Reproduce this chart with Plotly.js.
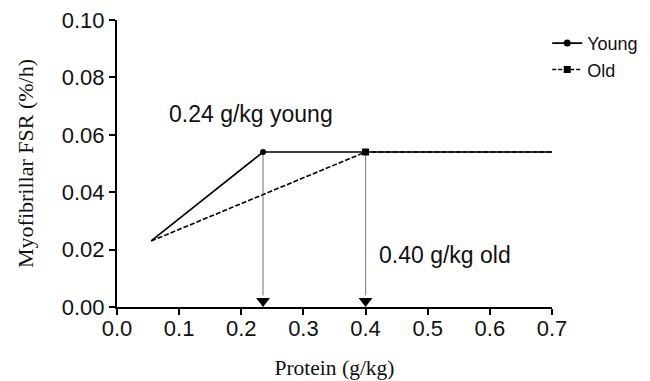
<!DOCTYPE html>
<html>
<head>
<meta charset="utf-8">
<script src="https://cdn.plot.ly/plotly-3.0.1.min.js"></script>
<style>html,body{margin:0;padding:0;background:#fff;} #chart{width:650px;height:381px;}</style>
</head>
<body>
<div id="chart"></div>
<script>
// Data
var youngX = [0.055, 0.235, 0.7];
var youngY = [0.023, 0.054, 0.054];
var oldX = [0.055, 0.4, 0.7];
var oldY = [0.023, 0.054, 0.054];
var breakX = [0.235, 0.4];
var breakY = [0.054, 0.054];
var breakLabels = ['0.24 g/kg young', '0.40 g/kg old'];
var labelX = [0.08, 0.418];
var labelY = [0.0672, 0.0182];
var xTicks = [0, 0.1, 0.2, 0.3, 0.4, 0.5, 0.6, 0.7];
var yTicks = [0, 0.02, 0.04, 0.06, 0.08, 0.10];

var traces = [];
// vertical guide lines
for (var i = 0; i < breakX.length; i++) {
  traces.push({
    x: [breakX[i], breakX[i]], y: [breakY[i], 0.004],
    mode: 'lines', line: {color: '#8a8a8a', width: 1.2},
    showlegend: false, hoverinfo: 'skip'
  });
}
// arrowheads
traces.push({
  x: breakX, y: [0.0021, 0.0021], mode: 'markers',
  marker: {symbol: 'triangle-down', size: 12, color: '#000'},
  showlegend: false, cliponaxis: false, hoverinfo: 'skip'
});
// Old series
traces.push({
  x: oldX, y: oldY, mode: 'lines',
  line: {color: '#000', width: 1.6, dash: '5px,2px'},
  showlegend: false
});
traces.push({
  x: [breakX[1]], y: [breakY[1]], mode: 'markers',
  marker: {symbol: 'square', size: 7, color: '#000'},
  showlegend: false
});
// Young series
traces.push({
  x: youngX, y: youngY, mode: 'lines',
  line: {color: '#000', width: 1.6},
  showlegend: false
});
traces.push({
  x: [breakX[0]], y: [breakY[0]], mode: 'markers',
  marker: {symbol: 'circle', size: 6, color: '#000'},
  showlegend: false
});
// legend entries
traces.push({
  x: [null], y: [null], mode: 'lines+markers', name: 'Young',
  line: {color: '#000', width: 1.6},
  marker: {symbol: 'circle', size: 7, color: '#000'}
});
traces.push({
  x: [null], y: [null], mode: 'lines+markers', name: 'Old',
  line: {color: '#000', width: 1.6, dash: '4px,2px'},
  marker: {symbol: 'square', size: 7, color: '#000'}
});

var annotations = [];
for (var j = 0; j < breakLabels.length; j++) {
  annotations.push({
    x: labelX[j], y: labelY[j], xref: 'x', yref: 'y',
    text: breakLabels[j], showarrow: false, xanchor: 'left', yanchor: 'middle',
    font: {family: 'Liberation Sans, Arial, sans-serif', size: 23, color: '#111'}
  });
}

var layout = {
  width: 650, height: 381,
  margin: {l: 117, r: 98, t: 20, b: 74, autoexpand: false},
  paper_bgcolor: '#fff', plot_bgcolor: '#fff',
  font: {family: 'Liberation Sans, Arial, sans-serif', color: '#111'},
  showlegend: true,
  legend: {x: 0.989, y: 0.983, xanchor: 'left', yanchor: 'top',
    font: {family: 'Liberation Sans, Arial, sans-serif', size: 18, color: '#111'},
    tracegroupgap: 0, itemwidth: 30, bgcolor: 'rgba(0,0,0,0)'},
  xaxis: {
    range: [0, 0.7], tickvals: xTicks, tickformat: '.1f',
    showgrid: false, zeroline: false, showline: true, linecolor: '#000', linewidth: 2,
    ticks: 'outside', ticklen: 6, tickwidth: 2, tickcolor: '#000',
    ticklabelstandoff: -5,
    tickfont: {size: 22, color: '#111'},
    title: {text: 'Protein (g/kg)', standoff: 20,
      font: {family: 'Liberation Serif, Times New Roman, serif', size: 21.5, color: '#111'}}
  },
  yaxis: {
    range: [0, 0.1], tickvals: yTicks, tickformat: '.2f',
    showgrid: false, zeroline: false, showline: true, linecolor: '#000', linewidth: 2,
    ticks: 'outside', ticklen: 6, tickwidth: 2, tickcolor: '#000',
    tickfont: {size: 22, color: '#111'},
    title: {text: 'Myofibrillar FSR (%/h)', standoff: 22,
      font: {family: 'Liberation Serif, Times New Roman, serif', size: 22, color: '#111'}}
  },
  annotations: annotations
};

Plotly.newPlot('chart', traces, layout, {displayModeBar: false, staticPlot: true});
</script>
</body>
</html>
